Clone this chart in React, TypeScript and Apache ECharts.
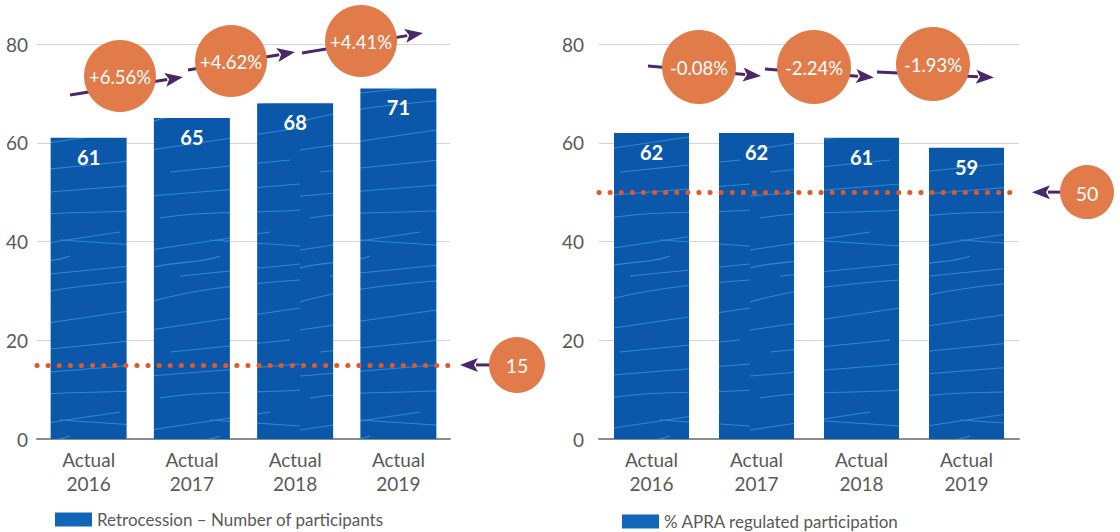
import React, { useEffect, useRef } from 'react';
import * as echarts from 'echarts';

// ---------- data ----------
const categories = ['Actual\n2016', 'Actual\n2017', 'Actual\n2018', 'Actual\n2019'];
const participants = [61, 65, 68, 71];
const apraShare = [62, 62, 61, 59];
const participantsChange = [6.56, 4.62, 4.41];
const apraChange = [-0.08, -2.24, -1.93];
const participantsTarget = 15;
const apraTarget = 50;
const yTicks = [0, 20, 40, 60, 80];
const leftName = 'Retrocession – Number of participants';
const rightName = '% APRA regulated participation';

// ---------- styles ----------
const FONT = 'Lato, "Noto Sans", sans-serif';
const ORANGE = '#e27b4a';
const DOT = '#e0592a';
const PURPLE = '#4a2768';
const TEXT = '#595959';

const scribbleSvg =
  "<svg xmlns='http://www.w3.org/2000/svg' width='150' height='180'>" +
  "<rect width='150' height='180' fill='#0b57aa'/>" +
  "<g stroke='#3a98dc' stroke-width='1.2' fill='none' opacity='0.75'>" +
  "<path d='M0 16 L150 4'/><path d='M10 38 C60 30 100 34 150 30'/>" +
  "<path d='M0 70 L120 52'/><path d='M30 96 L150 84'/>" +
  "<path d='M0 122 C40 110 90 104 150 100'/><path d='M0 150 L150 128'/>" +
  "<path d='M20 172 L140 160'/><path d='M60 60 L150 66'/>" +
  "<path d='M0 88 C30 80 50 84 70 76'/>" +
  '</g></svg>';
const scribble = {
  image: 'data:image/svg+xml;charset=utf-8,' + encodeURIComponent(scribbleSvg),
  repeat: 'repeat',
  imageWidth: 150,
  imageHeight: 180,
};

// annotation layout (positions of the change bubbles and arrows)
const leftBubbles = [
  { cx: 120, cy: 76, r: 36, a: [70, 95, 183, 77] },
  { cx: 231, cy: 61, r: 36, a: [188, 70, 295, 52] },
  { cx: 361, cy: 41, r: 36, a: [302, 53, 423, 33] },
];
const rightBubbles = [
  { cx: 699, cy: 67, r: 37, a: [648, 66, 761, 76] },
  { cx: 814, cy: 67, r: 37, a: [765, 69, 874, 77.5] },
  { cx: 933, cy: 64, r: 37, a: [877, 72, 994, 77.5] },
];

function arrow(x1: number, y1: number, x2: number, y2: number) {
  const dx = x2 - x1, dy = y2 - y1;
  const L = Math.hypot(dx, dy);
  const ux = dx / L, uy = dy / L;
  const head = 18, half = 7;
  const bx = x2 - ux * head, by = y2 - uy * head;
  const px = -uy, py = ux;
  return [
    { type: 'line', shape: { x1, y1, x2: bx + ux * 2, y2: by + uy * 2 }, style: { stroke: PURPLE, lineWidth: 3 } },
    {
      type: 'polygon',
      shape: { points: [[x2, y2], [bx + px * half, by + py * half], [bx + ux * 4, by + uy * 4], [bx - px * half, by - py * half]] },
      style: { fill: PURPLE },
    },
  ];
}

function bubble(cx: number, cy: number, r: number, text: string, size: number) {
  return [
    { type: 'circle', shape: { cx, cy, r }, style: { fill: ORANGE } },
    {
      type: 'text', x: cx, y: cy + 1,
      style: { text, fill: '#fff', fontSize: size, fontFamily: FONT, align: 'center', verticalAlign: 'middle' },
    },
  ];
}

const fmtPct = (v: number) => (v > 0 ? '+' : '') + v.toFixed(2) + '%';

export default function App() {
  const ref = useRef<HTMLDivElement>(null);
  useEffect(() => {
    if (!ref.current) return;
    const chart = echarts.init(ref.current, undefined, { renderer: 'svg' });
    const yMin = yTicks[0], yMax = yTicks[yTicks.length - 1], yInt = yTicks[1] - yTicks[0];
    const xAxis = [0, 1].map((i) => ({
      type: 'category', gridIndex: i, data: categories,
      axisLine: { lineStyle: { color: '#8c8c8c', width: 2 } },
      axisTick: { show: false },
      axisLabel: { color: TEXT, fontSize: 19, fontFamily: FONT, lineHeight: 24, margin: 8 },
    }));
    const yAxis = [0, 1].map((i) => ({
      type: 'value', gridIndex: i, min: yMin, max: yMax, interval: yInt,
      axisLine: { show: false }, axisTick: { show: false },
      splitLine: { lineStyle: { color: '#d4d4d4', width: 1 } },
      axisLabel: { color: TEXT, fontSize: 19, fontFamily: FONT, margin: i ? 15 : 9 },
    }));
    const markLine = (v: number) => ({
      silent: true, symbol: ['none', 'none'], label: { show: false },
      lineStyle: { color: DOT, width: 5, type: [0.1, 11], cap: 'round' },
      data: [{ yAxis: v }],
    });
    const barLabel = {
      show: true, position: 'insideTop', distance: 9, color: '#fff', fontSize: 20,
      fontWeight: 'bold', fontFamily: FONT, formatter: (p: any) => String(Math.round(p.value)),
    };
    const legendCommon = {
      itemWidth: 37, itemHeight: 14, icon: 'rect', padding: 0, itemGap: 6,
      itemStyle: { color: '#1167b8' },
      textStyle: { color: TEXT, fontSize: 17, fontFamily: FONT },
    };
    chart.setOption({
      animation: false,
      grid: [
        { left: 37, top: 44, width: 413, height: 395 },
        { left: 599, top: 44, width: 420, height: 395 },
      ],
      xAxis, yAxis,
      legend: [
        { ...legendCommon, data: [leftName], left: 55, top: 511 },
        { ...legendCommon, data: [rightName], left: 622, top: 513 },
      ],
      series: [
        {
          name: leftName, type: 'bar', xAxisIndex: 0, yAxisIndex: 0, data: participants, barWidth: 76,
          itemStyle: { color: scribble }, label: barLabel, markLine: markLine(participantsTarget),
        },
        {
          name: rightName, type: 'bar', xAxisIndex: 1, yAxisIndex: 1, data: apraShare, barWidth: 75,
          itemStyle: { color: scribble }, label: barLabel, markLine: markLine(apraTarget),
        },
      ],
    });

    const yL = chart.convertToPixel({ yAxisIndex: 0 }, participantsTarget) as number;
    const yR = chart.convertToPixel({ yAxisIndex: 1 }, apraTarget) as number;
    const elements: any[] = [];
    leftBubbles.forEach((b, i) => {
      elements.push(...arrow(b.a[0], b.a[1], b.a[2], b.a[3]));
      elements.push(...bubble(b.cx, b.cy, b.r, fmtPct(participantsChange[i]), 18.5));
    });
    rightBubbles.forEach((b, i) => {
      elements.push(...arrow(b.a[0], b.a[1], b.a[2], b.a[3]));
      elements.push(...bubble(b.cx, b.cy, b.r, fmtPct(apraChange[i]), 18.5));
    });
    elements.push(...arrow(492, yL, 460, yL));
    elements.push(...bubble(517, yL, 28, String(participantsTarget), 19.5));
    elements.push(...arrow(1063, yR, 1032, yR));
    elements.push(...bubble(1087, yR, 27, String(apraTarget), 19.5));
    chart.setOption({ graphic: { elements } });

    return () => chart.dispose();
  }, []);
  return (
    <div
      ref={ref}
      style={{ position: 'absolute', left: 0, top: 0, width: 1120, height: 532 }}
    />
  );
}
